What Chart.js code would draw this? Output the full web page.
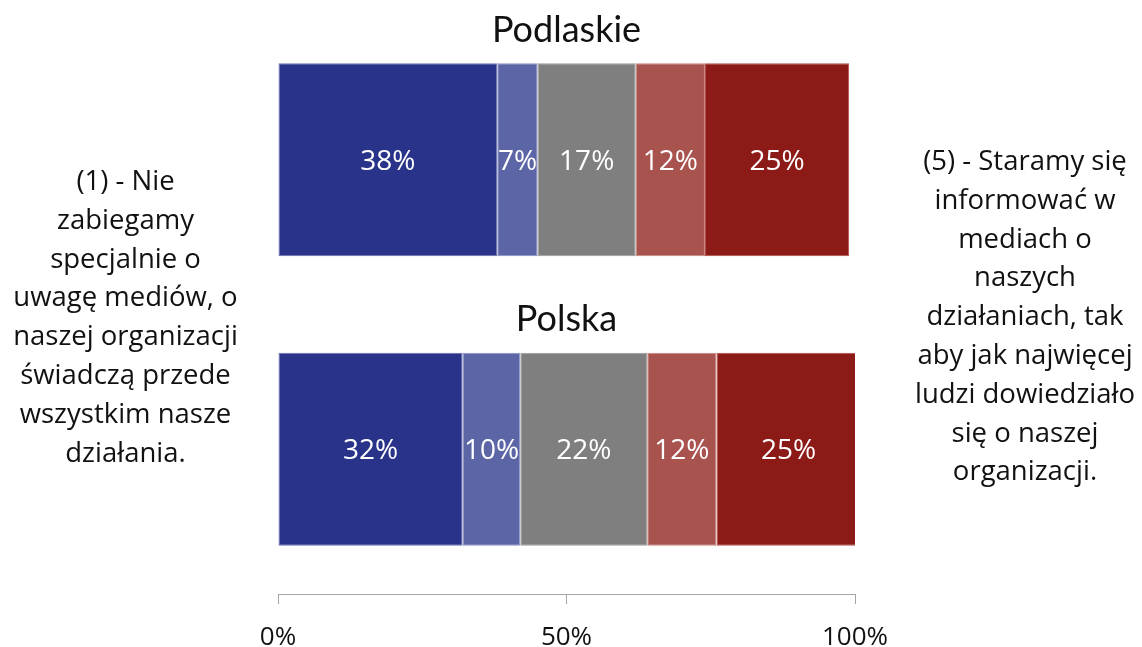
<!DOCTYPE html>
<html>
<head>
<meta charset="utf-8">
<script src="https://cdn.jsdelivr.net/npm/chart.js@4/dist/chart.umd.min.js"></script>
<style>
  html, body { margin: 0; padding: 0; background: #fff; }
  #wrap { position: relative; width: 1142px; height: 647px; }
  #chart { position: absolute; left: 0; top: 0; }
  .side {
    position: absolute; text-align: center; color: #111;
    font-family: "Open Sans", sans-serif; font-size: 27.5px; line-height: 38.8px;
    white-space: nowrap;
  }
  #leftNote { left: 0; top: 161px; width: 251px; }
  #rightNote { left: 902px; top: 141px; width: 246px; }
</style>
</head>
<body>
<div id="wrap">
  <canvas id="chart" width="1142" height="647"></canvas>
  <div class="side" id="leftNote">(1) - Nie<br>zabiegamy<br>specjalnie o<br>uwagę mediów, o<br>naszej organizacji<br>świadczą przede<br>wszystkim nasze<br>działania.</div>
  <div class="side" id="rightNote">(5) - Staramy się<br>informować w<br>mediach o<br>naszych<br>działaniach, tak<br>aby jak najwięcej<br>ludzi dowiedziało<br>się o naszej<br>organizacji.</div>
</div>
<script>
// regiony (kategorie)
const regions = ['Podlaskie', 'Polska'];

// udział odpowiedzi w skali 1-5 (%)
const answer1 = [38, 32];
const answer2 = [7, 10];
const answer3 = [17, 22];
const answer4 = [12, 12];
const answer5 = [25, 25];

const xTicks = [0, 50, 100];

const fills   = ['#283389', '#5c66a6', '#7f7f7f', '#a9534f', '#8c1a16'];
const borders = ['#6a72b4', '#8a92c4', '#9a9a9a', '#c98480', '#b0504c'];

const seriesData = [answer1, answer2, answer3, answer4, answer5];

// etykiety % w środku segmentów
const segmentLabels = {
  id: 'segmentLabels',
  afterDatasetsDraw(chart) {
    const ctx = chart.ctx;
    ctx.save();
    ctx.font = '28px "Open Sans", sans-serif';
    ctx.fillStyle = '#fff';
    ctx.textAlign = 'center';
    ctx.textBaseline = 'middle';
    chart.data.datasets.forEach((ds, i) => {
      chart.getDatasetMeta(i).data.forEach((bar, j) => {
        const cx = (bar.x + bar.base) / 2;
        ctx.fillText(ds.data[j] + '%', cx, bar.y + 2);
      });
    });
    ctx.restore();
  }
};

// nazwa regionu nad każdym paskiem
const barTitles = {
  id: 'barTitles',
  afterDraw(chart) {
    const ctx = chart.ctx;
    const area = chart.chartArea;
    const meta = chart.getDatasetMeta(0);
    ctx.save();
    ctx.font = '36px Lato, sans-serif';
    ctx.fillStyle = '#111';
    ctx.textAlign = 'center';
    ctx.textBaseline = 'middle';
    meta.data.forEach((bar, j) => {
      const top = bar.y - bar.height / 2;
      ctx.fillText(chart.data.labels[j], (area.left + area.right) / 2, top - 33);
    });
    ctx.restore();
  }
};

new Chart(document.getElementById('chart'), {
  type: 'bar',
  data: {
    labels: regions,
    datasets: seriesData.map((d, i) => ({
      label: '(' + (i + 1) + ')',
      data: d,
      backgroundColor: fills[i],
      borderColor: borders[i],
      borderWidth: 1,
      borderSkipped: false,
      barPercentage: 0.667,
      categoryPercentage: 1
    }))
  },
  options: {
    indexAxis: 'y',
    responsive: false,
    animation: false,
    layout: { padding: { left: 278, right: 287, top: 15, bottom: 0 } },
    plugins: {
      legend: { display: false },
      tooltip: { enabled: false }
    },
    scales: {
      x: {
        stacked: true,
        min: 0,
        max: 100,
        afterBuildTicks(scale) {
          scale.ticks = xTicks.map(v => ({ value: v }));
        },
        afterFit(scale) { scale.height = 53; },
        grid: {
          drawOnChartArea: false,
          drawTicks: true,
          tickLength: 10,
          color: '#a6a6a6'
        },
        border: { display: true, color: '#a6a6a6', width: 1 },
        ticks: {
          padding: 18,
          color: '#111',
          font: { family: '"Open Sans", sans-serif', size: 26 },
          callback: v => v + '%'
        }
      },
      y: {
        stacked: true,
        display: false
      }
    }
  },
  plugins: [segmentLabels, barTitles]
});
</script>
</body>
</html>
